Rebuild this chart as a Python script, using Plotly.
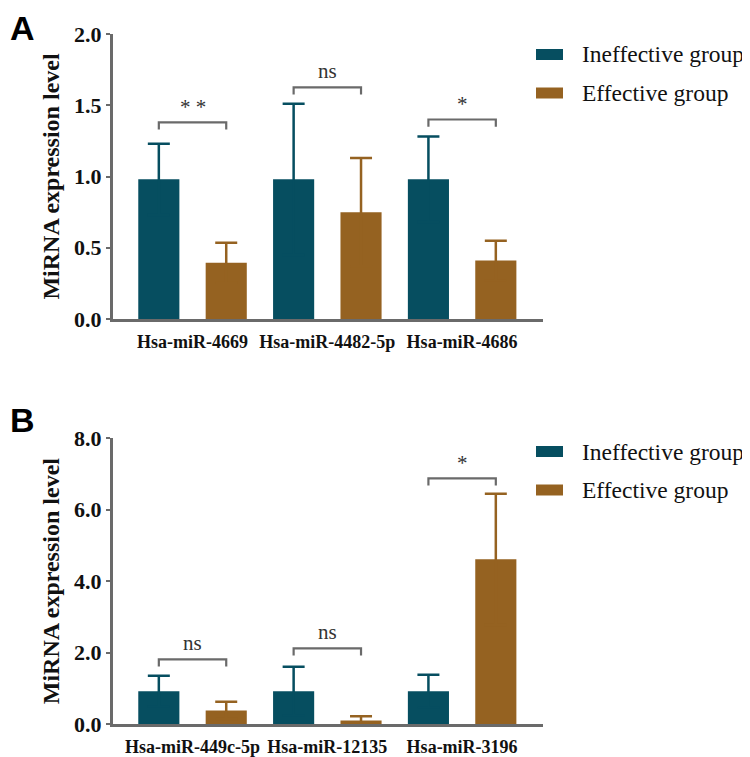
import plotly.graph_objects as go

# ---------------- data ----------------
cats_a = ["Hsa-miR-4669", "Hsa-miR-4482-5p", "Hsa-miR-4686"]
ineff_a = [0.98, 0.98, 0.98]
ineff_a_err = [0.25, 0.53, 0.30]
eff_a = [0.395, 0.75, 0.41]
eff_a_err = [0.14, 0.38, 0.14]
sig_a = ["* *", "ns", "*"]
sig_a_y = [1.38, 1.626, 1.40]

cats_b = ["Hsa-miR-449c-5p", "Hsa-miR-12135", "Hsa-miR-3196"]
ineff_b = [0.92, 0.92, 0.92]
ineff_b_err = [0.43, 0.68, 0.46]
eff_b = [0.38, 0.10, 4.61]
eff_b_err = [0.24, 0.12, 1.84]
sig_b = ["ns", "ns", "*"]
sig_b_y = [1.81, 2.12, 6.88]

series_names = ["Ineffective group", "Effective group"]
ticks_a = [0.0, 0.5, 1.0, 1.5, 2.0]
ticks_b = [0.0, 2.0, 4.0, 6.0, 8.0]

# ---------------- style ----------------
OFF = 8                      # page body margin offset
W, H = 750 - OFF, 757 - OFF  # figure size so the page area matches 750x757
TEAL = "#064e60"
BROWN = "#956221"
AXIS = "#6a6a6a"
SERIF = "Liberation Serif"
SANS = "Liberation Sans"

def px_x(x):
    return (x - OFF) / W

def px_y(y):
    return 1 - (y - OFF) / H

fig = go.Figure()

def add_bars(cats, vals, errs, color, name, xa, ya):
    fig.add_trace(go.Bar(
        x=cats, y=vals, name=name, xaxis=xa, yaxis=ya,
        marker=dict(color=color, line=dict(width=0)),
        error_y=dict(type="data", symmetric=True, array=errs, color=color,
                     thickness=2.5, width=11),
        showlegend=False,
    ))

add_bars(cats_a, ineff_a, ineff_a_err, TEAL, series_names[0], "x", "y")
add_bars(cats_a, eff_a, eff_a_err, BROWN, series_names[1], "x", "y")
add_bars(cats_b, ineff_b, ineff_b_err, TEAL, series_names[0], "x2", "y2")
add_bars(cats_b, eff_b, eff_b_err, BROWN, series_names[1], "x2", "y2")

shapes = []
annotations = []

def add_brackets(ys, labels, xref, yref, arm):
    for i, (yv, lab) in enumerate(zip(ys, labels)):
        shapes.append(dict(
            type="path", xref=xref, yref=yref,
            path=f"M {i-0.25},{yv-arm} L {i-0.25},{yv} L {i+0.25},{yv} L {i+0.25},{yv-arm}",
            line=dict(color=AXIS, width=2.2),
        ))
        annotations.append(dict(
            x=i, y=yv, xref=xref, yref=yref, text=lab, showarrow=False,
            yanchor="bottom", yshift=1 if lab != "ns" else 2,
            font=dict(family=SERIF, size=21, color="#333333"),
        ))

add_brackets(sig_a_y, sig_a, "x", "y", 0.05)
add_brackets(sig_b_y, sig_b, "x2", "y2", 0.2)

def add_legend(rows):
    for (ry, color, label) in rows:
        shapes.append(dict(type="rect", xref="paper", yref="paper",
                           x0=px_x(536), x1=px_x(563),
                           y0=px_y(ry + 5.5), y1=px_y(ry - 5.5),
                           fillcolor=color, line=dict(width=0)))
        annotations.append(dict(x=px_x(580), y=px_y(ry), xref="paper", yref="paper",
                                text=label, showarrow=False, xanchor="left",
                                yanchor="middle",
                                font=dict(family=SERIF, size=23.5, color="#111111")))

add_legend([(54.5, TEAL, series_names[0]), (93, BROWN, series_names[1])])
add_legend([(451.5, TEAL, series_names[0]), (490, BROWN, series_names[1])])

# panel labels
annotations.append(dict(x=0, y=px_y(28), xref="paper", yref="paper", text="<b>A</b>",
                        showarrow=False, xanchor="left", yanchor="middle",
                        font=dict(family=SANS, size=34, color="#000000")))
annotations.append(dict(x=0, y=px_y(420), xref="paper", yref="paper", text="<b>B</b>",
                        showarrow=False, xanchor="left", yanchor="middle",
                        font=dict(family=SANS, size=34, color="#000000")))

xdom = [px_x(113), px_x(543)]
common_x = dict(
    range=[-0.59, 2.6], showline=True, linecolor=AXIS, linewidth=3,
    ticks="", showgrid=False, zeroline=False, automargin=False,
    ticklabelstandoff=4,
    tickfont=dict(family=SERIF, size=18, color="#111111"),
)
common_y = dict(
    showline=True, linecolor=AXIS, linewidth=3, ticks="outside",
    ticklen=4, tickwidth=2, tickcolor=AXIS, showgrid=False, zeroline=False,
    automargin=False,
    tickfont=dict(family=SERIF, size=22, color="#111111"),
    title=dict(text="<b>MiRNA expression level</b>",
               font=dict(family=SERIF, size=24, color="#111111"), standoff=8),
)

fig.update_layout(
    width=W, height=H,
    margin=dict(l=0, r=0, t=0, b=0, autoexpand=False),
    paper_bgcolor="white", plot_bgcolor="white",
    barmode="group", bargap=0.0, bargroupgap=0.39,
    showlegend=False,
    xaxis=dict(domain=xdom, anchor="y", **common_x),
    yaxis=dict(domain=[px_y(319), px_y(34)], anchor="x", range=[0, 2.0],
               tickvals=ticks_a, ticktext=[f"<b>{t:.1f}</b>" for t in ticks_a], **common_y),
    xaxis2=dict(domain=xdom, anchor="y2", **common_x),
    yaxis2=dict(domain=[px_y(724), px_y(438.3)], anchor="x2", range=[0, 8.0],
                tickvals=ticks_b, ticktext=[f"<b>{t:.1f}</b>" for t in ticks_b], **common_y),
    shapes=shapes,
    annotations=annotations,
)
fig.layout.xaxis.tickmode = "array"
fig.layout.xaxis.tickvals = cats_a
fig.layout.xaxis.ticktext = [f"<b>{c}</b>" for c in cats_a]
fig.layout.xaxis2.tickmode = "array"
fig.layout.xaxis2.tickvals = cats_b
fig.layout.xaxis2.ticktext = [f"<b>{c}</b>" for c in cats_b]

fig.write_html("out.html")
